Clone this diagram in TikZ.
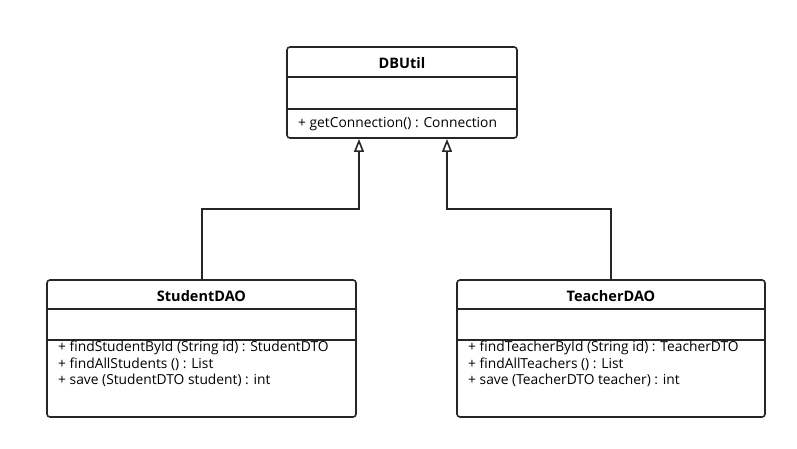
\documentclass[tikz,border=0pt]{standalone}
\usepackage{fontspec}
\setmainfont{Open Sans}
\usetikzlibrary{arrows.meta,positioning,calc}

\begin{document}
\begin{tikzpicture}[x=1pt,y=-1pt,
    classbox/.style={draw=black!85, line width=1.6pt, rounded corners=3pt, minimum width=#1, inner sep=0pt},
    classname/.style={font=\fontsize{14.5}{17}\selectfont\bfseries, inner sep=0pt},
    members/.style={font=\fontsize{13.8}{16.6}\selectfont, align=left, anchor=north west, inner sep=0pt},
    divider/.style={draw=black!85, line width=1.6pt},
    inherit/.style={draw=black!85, line width=1.6pt, -{Triangle[open, length=13pt, width=10pt]}}]
    \useasboundingbox (0,0) rectangle (797,449);
    % Classes
    \node[classbox=230pt, minimum height=91pt] (dbutil) at (402,92.5) {};
    \node[classbox=309pt, minimum height=137pt] (studentdao) at (201.5,348.5) {};
    \node[classbox=308pt, minimum height=137pt] (teacherdao) at (611,348.5) {};
    % Compartments
    \draw[divider] (287,77) -- (517,77);
    \draw[divider] (287,109) -- (517,109);
    \draw[divider] (47,309) -- (356,309);
    \draw[divider] (47,340) -- (356,340);
    \draw[divider] (457,309) -- (765,309);
    \draw[divider] (457,340) -- (765,340);
    % Names
    \node[classname] (dbutilname) at (402,63) {DBUtil};
    \node[classname] (studentname) at (201.5,296) {StudentDAO};
    \node[classname] (teachername) at (611,296) {TeacherDAO};
    % Operations
    \node[members, anchor=west] (dbutilops) at (298,124) {+ getConnection() : Connection};
    \node[members] (studentops) at (58,341) {+ findStudentById (String id) : StudentDTO\\
        + findAllStudents () : List\\
        + save (StudentDTO student) : int};
    \node[members] (teacherops) at (468,341) {+ findTeacherById (String id) : TeacherDTO\\
        + findAllTeachers () : List\\
        + save (TeacherDTO teacher) : int};
    % Generalisation
    \coordinate (sbend) at (202,209);
    \coordinate (tbend) at (611,209);
    \coordinate (sin) at (359,139);
    \coordinate (tin) at (447,139);
    \draw[inherit] (studentdao.north -| sbend) -- (sbend) -| (sin);
    \draw[inherit] (teacherdao.north -| tbend) -- (tbend) -| (tin);
\end{tikzpicture}
\end{document}
